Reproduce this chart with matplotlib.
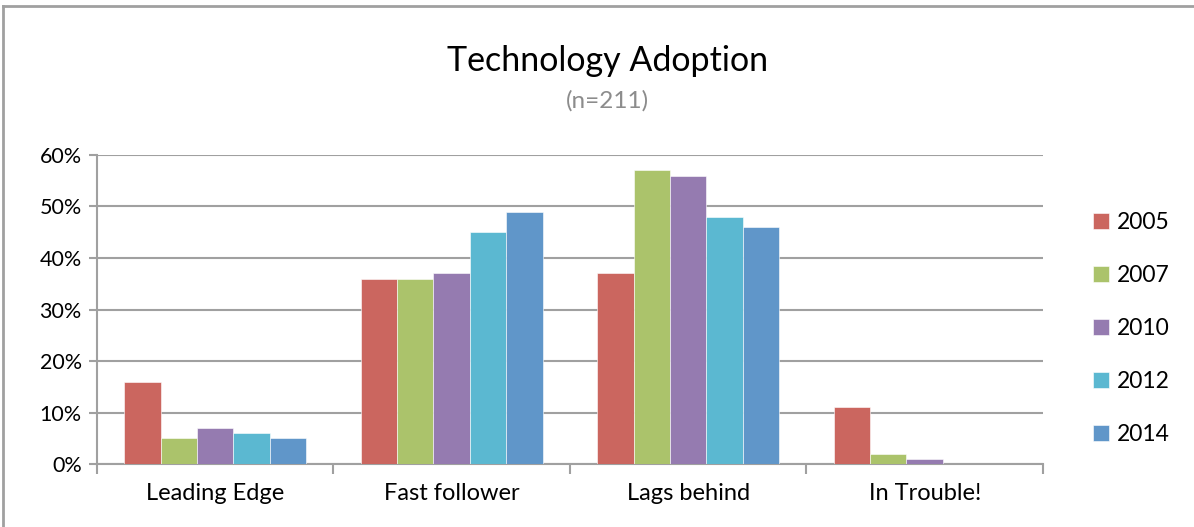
#import necessary libraries
import numpy as np
import matplotlib.pyplot as plt
from matplotlib.lines import Line2D

plt.rcParams['font.family'] = ['Lato', 'DejaVu Sans']

#data
categories = ['Leading Edge', 'Fast follower', 'Lags behind', 'In Trouble!']
years = ['2005', '2007', '2010', '2012', '2014']
values_2005 = [16, 36, 37, 11]
values_2007 = [5, 36, 57, 2]
values_2010 = [7, 37, 56, 1]
values_2012 = [6, 45, 48, 0]
values_2014 = [5, 49, 46, 0]
series = [values_2005, values_2007, values_2010, values_2012, values_2014]
colors = ['#CB665F', '#ABC36B', '#957BB0', '#5BB8D1', '#6096C9']

fig = plt.figure(figsize=(11.94, 5.27), dpi=100)
ax = fig.add_axes([0.0812, 0.1195, 0.7923, 0.5864])

#grouped bars, group width ~0.77 of each category
x = np.arange(len(categories))
bw = 0.77 / len(series)
for i, (vals, c, lab) in enumerate(zip(series, colors, years)):
    offs = (i - (len(series) - 1) / 2) * bw
    ax.bar(x + offs, np.array(vals) / 100, width=bw, color=c, label=lab,
           edgecolor='white', linewidth=0.4, zorder=3)

#axes styling
grid_c = '#A0A0A0'
ax.set_xlim(-0.5, len(categories) - 0.5)
ax.set_ylim(0, 0.6)
ax.set_yticks(np.arange(0, 0.61, 0.1))
ax.set_yticklabels([f'{int(round(v*100))}%' for v in np.arange(0, 0.61, 0.1)], fontsize=15.5)
ax.yaxis.grid(True, color=grid_c, linewidth=1.5, zorder=0)
ax.tick_params(axis='y', length=6, width=1.5, color=grid_c, pad=5)

#category labels in the middle, tick marks at the boundaries
ax.set_xticks(np.arange(-0.5, len(categories)), minor=False)
ax.set_xticklabels([])
ax.set_xticks(x, minor=True)
ax.set_xticklabels(categories, minor=True, fontsize=17)
ax.tick_params(axis='x', which='major', length=7, width=1.5, color=grid_c)
ax.tick_params(axis='x', which='minor', length=0, pad=14)

for s in ['top', 'right']:
    ax.spines[s].set_visible(False)
for s in ['left', 'bottom']:
    ax.spines[s].set_color(grid_c)
    ax.spines[s].set_linewidth(1.5)

#titles
fig.text(0.5085, 0.884, 'Technology Adoption', ha='center', va='center', fontsize=24.5)
fig.text(0.5085, 0.808, '(n=211)', ha='center', va='center', fontsize=17.5, color='#8C8C8C')

#legend on the right
ax.legend(loc='center left', bbox_to_anchor=(1.031, 0.4385), frameon=False, fontsize=16.5,
          handlelength=0.7, handleheight=0.7, handletextpad=0.35, labelspacing=1.40)

#chart border (only top and left visible in the crop)
fig.add_artist(Line2D([3/1194, 1], [1 - 6/527, 1 - 6/527], color='#A0A0A0', lw=2))
fig.add_artist(Line2D([3/1194, 3/1194], [0, 1 - 6/527], color='#A0A0A0', lw=2))

fig.savefig('out.png', dpi=100)
